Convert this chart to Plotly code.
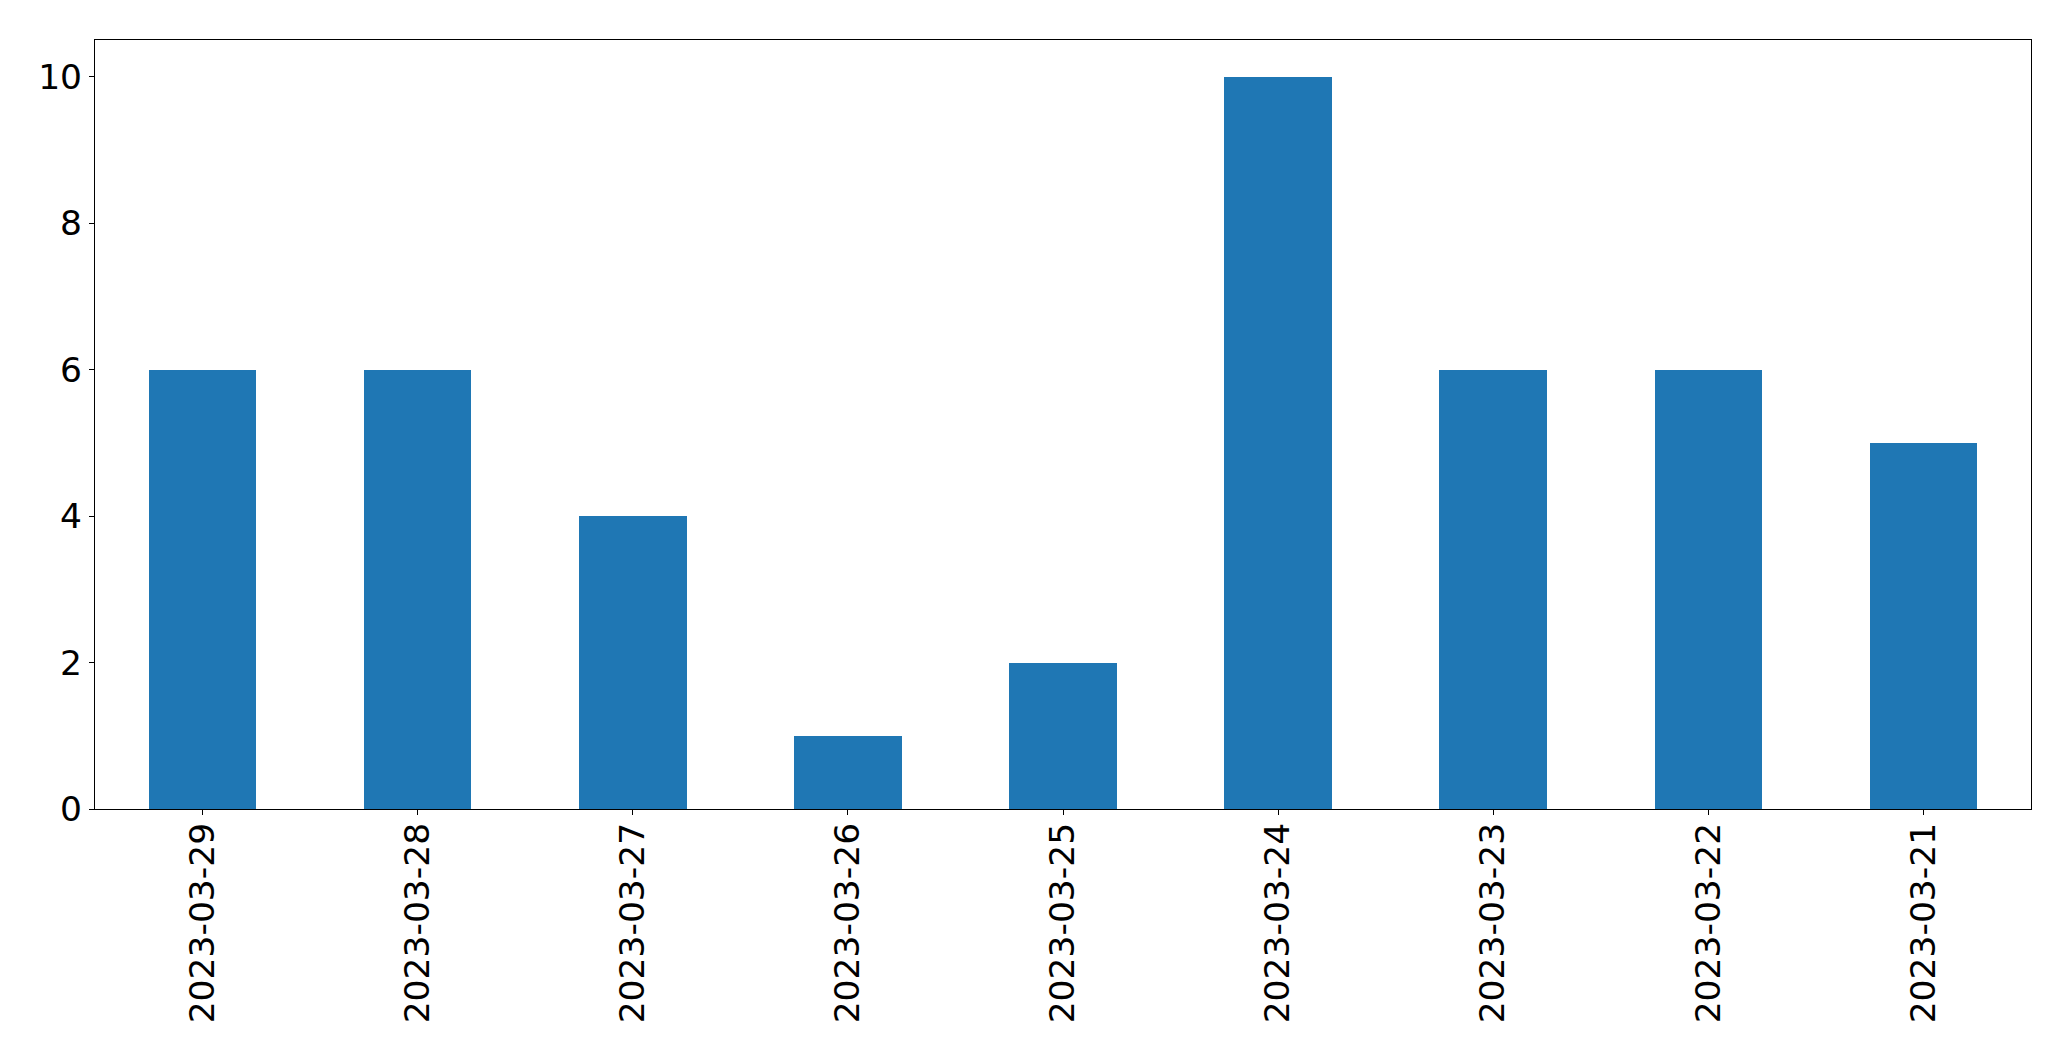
import plotly.graph_objects as go

dates = ["2023-03-29", "2023-03-28", "2023-03-27", "2023-03-26", "2023-03-25",
         "2023-03-24", "2023-03-23", "2023-03-22", "2023-03-21"]
counts = [6, 6, 4, 1, 2, 10, 6, 6, 5]
y_ticks = [0, 2, 4, 6, 8, 10]

fig = go.Figure(go.Bar(x=dates, y=counts, width=0.5, marker=dict(color="#1f77b4", line=dict(width=0))))

font = dict(family="DejaVu Sans", size=34.5, color="black")
fig.update_layout(
    width=2071, height=1061,
    margin=dict(l=94.5, r=39.5, t=39.5, b=252, pad=0),
    plot_bgcolor="white", paper_bgcolor="white",
    showlegend=False, bargap=0,
    font=font,
)
fig.update_xaxes(type="category", range=[-0.5, 8.5], tickangle=-90,
                 showline=True, mirror=True, linecolor="black", linewidth=1.1,
                 ticks="outside", ticklen=5, tickwidth=1.1, tickcolor="black",
                 showgrid=False, zeroline=False, tickfont=font, ticklabelstandoff=-6)
fig.update_yaxes(range=[0, 10.5], tickvals=y_ticks,
                 showline=True, mirror=True, linecolor="black", linewidth=1.1,
                 ticks="outside", ticklen=5, tickwidth=1.1, tickcolor="black",
                 showgrid=False, zeroline=False, tickfont=font)

fig.write_html("out.html", config={"displayModeBar": False},
               post_script="document.body.style.margin='0';document.body.style.overflow='hidden';")
